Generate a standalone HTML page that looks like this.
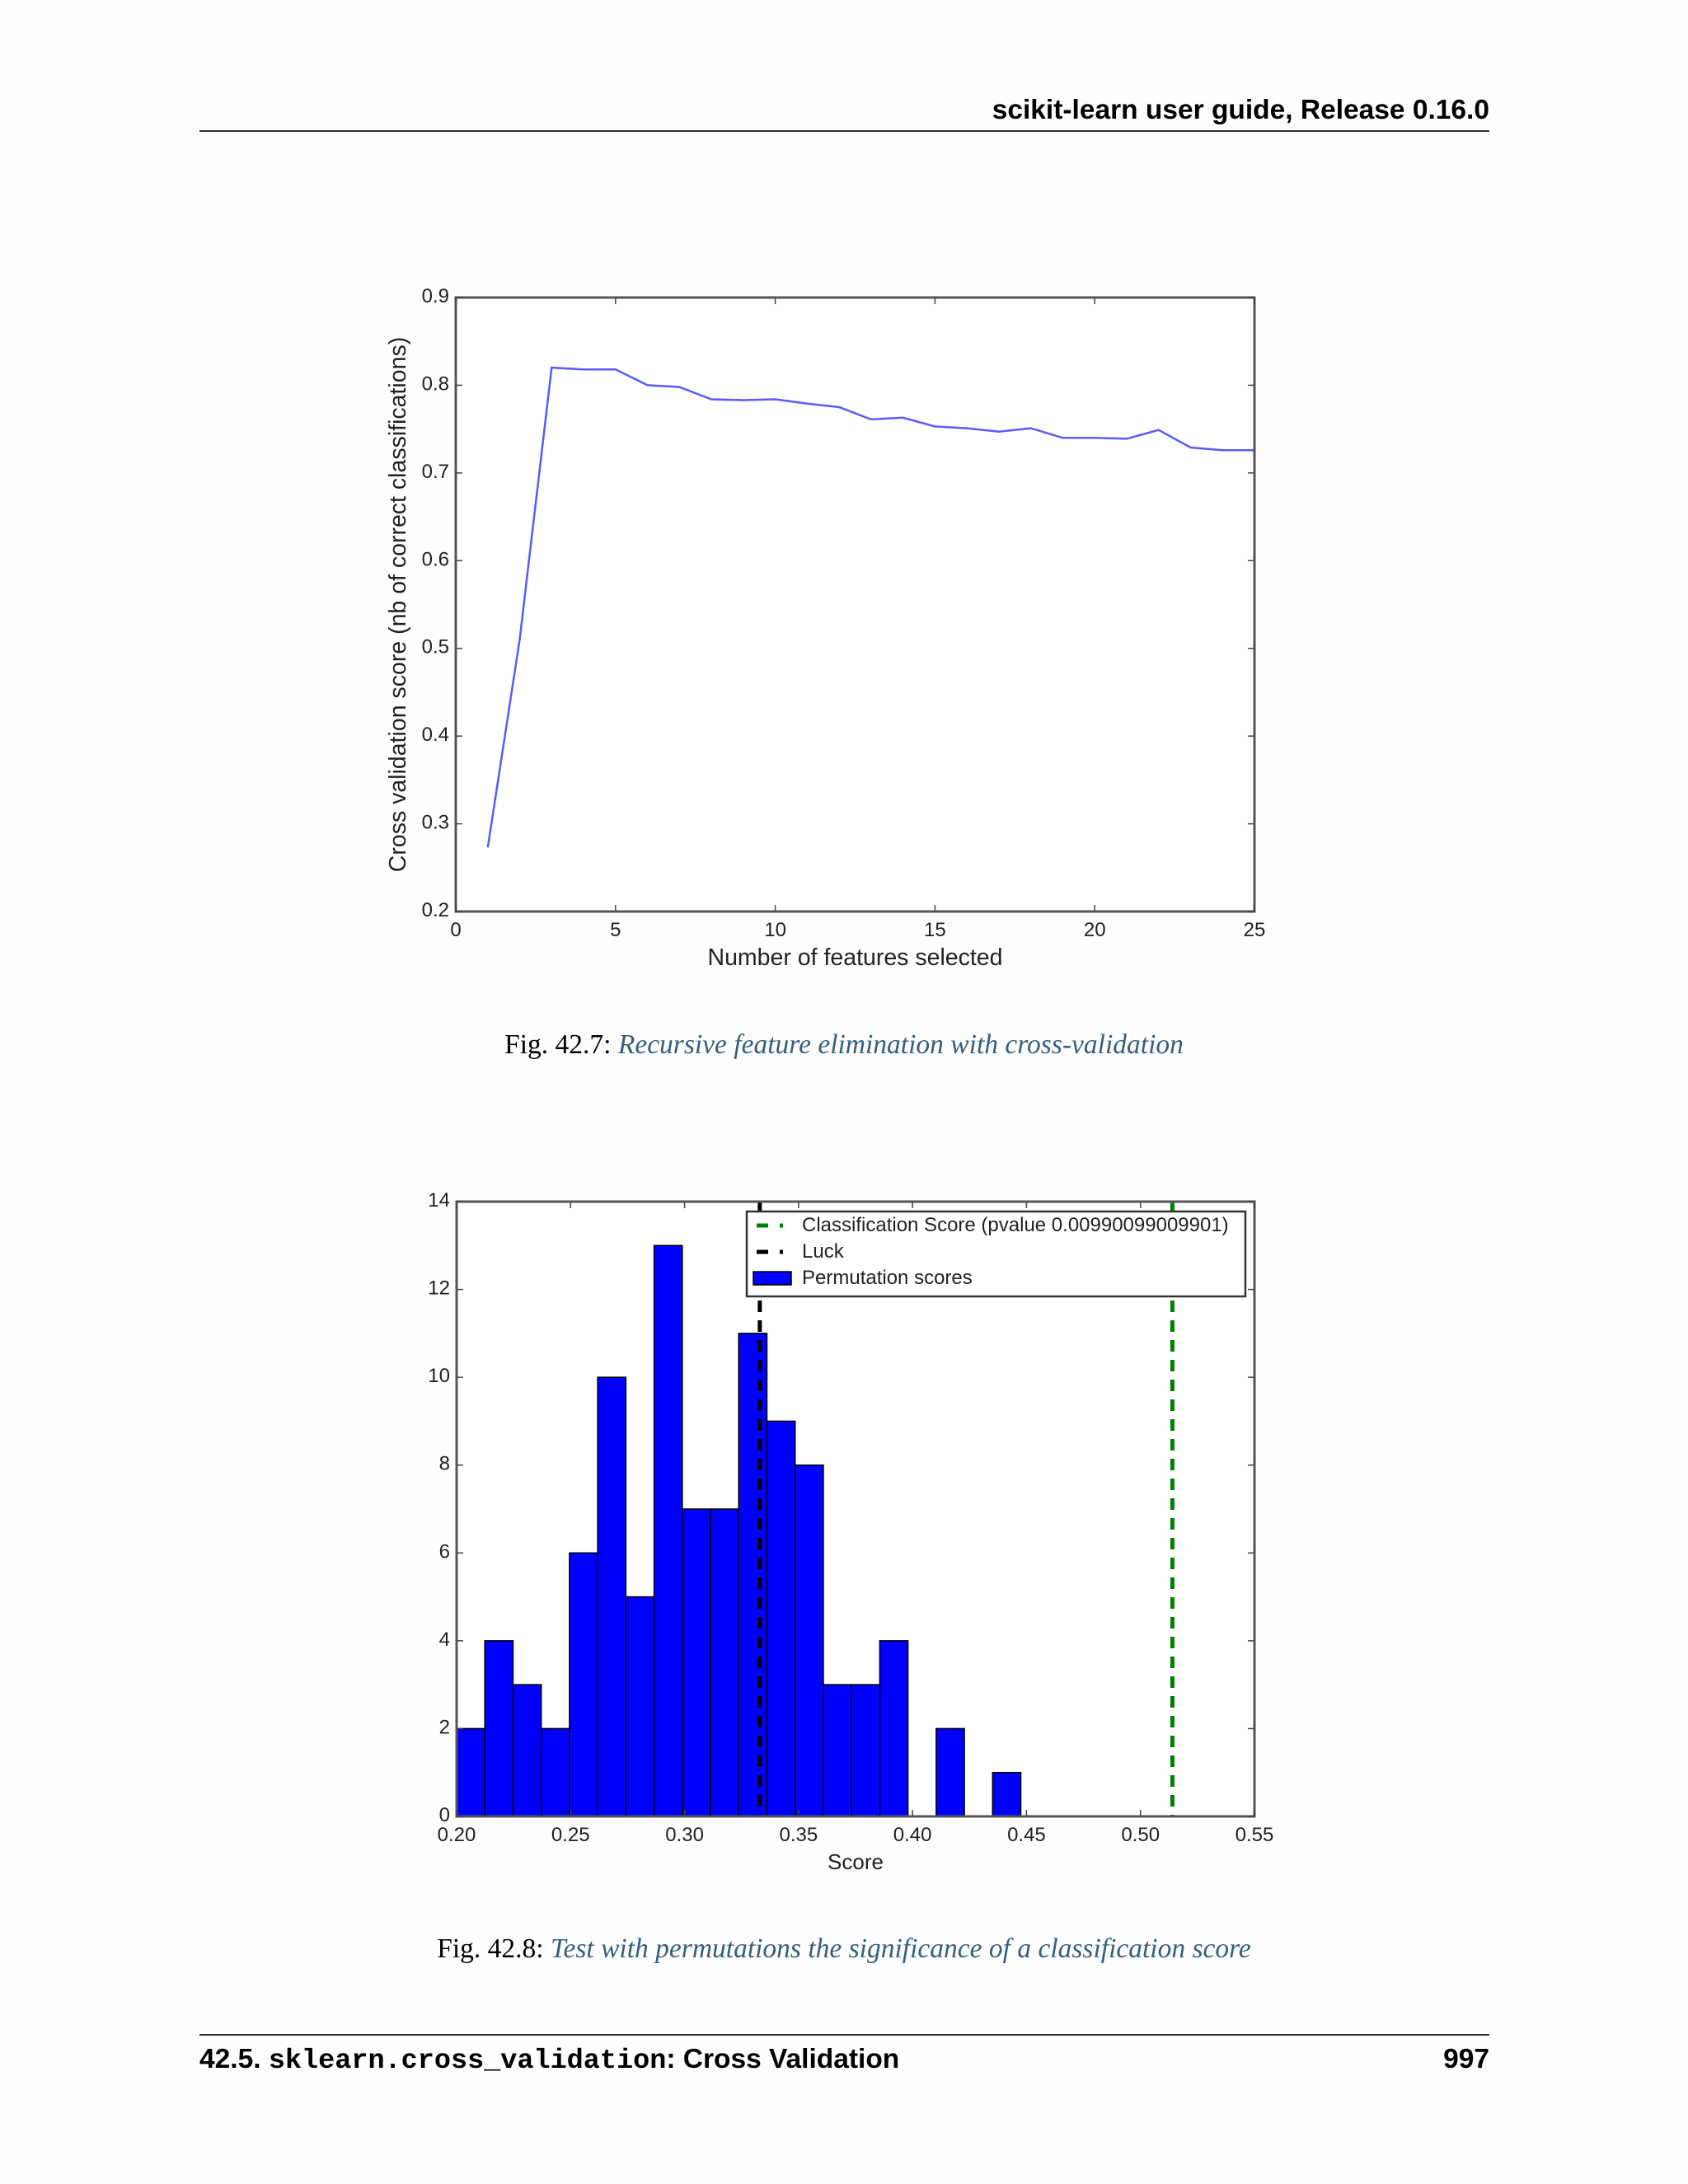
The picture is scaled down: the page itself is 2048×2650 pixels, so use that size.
<!DOCTYPE html>
<html><head><meta charset="utf-8"><style>
html,body{margin:0;padding:0;background:#fff;}
svg{display:block;}
</style></head><body>
<svg id="page" width="2048" height="2650" viewBox="0 0 2048 2650" xmlns="http://www.w3.org/2000/svg">
<rect x="0" y="0" width="2048" height="2650" fill="#fdfdfd"/>
<text x="1807" y="144" text-anchor="end" font-family="Liberation Sans, sans-serif" font-weight="bold" font-size="33.5" fill="#000">scikit-learn user guide, Release 0.16.0</text>
<line x1="242" y1="159" x2="1807" y2="159" stroke="#333" stroke-width="2"/>
<g id="c1"></g>
<text x="1024" y="1278" text-anchor="middle" font-family="Liberation Serif, serif" font-size="33.5"><tspan fill="#000">Fig.  42.7: </tspan><tspan fill="#355f7c" font-style="italic">Recursive feature elimination with cross-validation</tspan></text>
<g id="c2"></g>
<text x="1024" y="2375" text-anchor="middle" font-family="Liberation Serif, serif" font-size="33.5"><tspan fill="#000">Fig.  42.8: </tspan><tspan fill="#355f7c" font-style="italic">Test with permutations the significance of a classification score</tspan></text>
<line x1="242" y1="2469" x2="1807" y2="2469" stroke="#333" stroke-width="2"/>
<text x="242" y="2509" font-family="Liberation Sans, sans-serif" font-weight="bold" font-size="33.5">42.5. <tspan font-family="Liberation Mono, monospace">sklearn.cross_validation</tspan>: Cross Validation</text>
<text x="1807" y="2509" text-anchor="end" font-family="Liberation Sans, sans-serif" font-weight="bold" font-size="33.5">997</text>
</svg>
<script>
const NS='http://www.w3.org/2000/svg';
const rfeX=[1,2,3,4,5,6,7,8,9,10,11,12,13,14,15,16,17,18,19,20,21,22,23,24,25];
const rfeY=[0.273,0.51,0.82,0.818,0.818,0.80,0.798,0.784,0.783,0.784,0.779,0.775,0.761,0.763,0.753,0.751,0.747,0.751,0.740,0.740,0.739,0.749,0.729,0.726,0.726];
const rfeXTicks=[0,5,10,15,20,25];
const rfeYTicks=[0.2,0.3,0.4,0.5,0.6,0.7,0.8,0.9];
const histStart=0.2;
const histBinWidth=0.012375;
const histCounts=[2,4,3,2,6,10,5,13,7,7,11,9,8,3,3,4,0,2,0,1];
const luckScore=0.333;
const classScore=0.514;
const histXTicks=['0.20','0.25','0.30','0.35','0.40','0.45','0.50','0.55'];
const histYTicks=[0,2,4,6,8,10,12,14];

function el(parent,tag,attrs,txt){const e=document.createElementNS(NS,tag);for(const k in attrs)e.setAttribute(k,attrs[k]);if(txt!==undefined)e.textContent=txt;parent.appendChild(e);return e;}
const F='Liberation Sans, DejaVu Sans, sans-serif';

function axesFrame(g,L,T,R,B,xt,yt,sx,sy,xfmt,yfmt){
  xt.forEach(v=>{const x=sx(v);
    const t1=el(g,'line',{x1:x,y1:B,x2:x,y2:B-8,stroke:'#444','stroke-width':1.5});
    
    const t2=el(g,'line',{x1:x,y1:T,x2:x,y2:T+8,stroke:'#444','stroke-width':1.5});
    
    const lb=el(g,'text',{x:x,y:B+30,'text-anchor':'middle','font-family':F,'font-size':24,fill:'#222'},xfmt(v));
    
  });
  yt.forEach(v=>{const y=sy(v);
    const t1=el(g,'line',{x1:L,y1:y,x2:L+8,y2:y,stroke:'#444','stroke-width':1.5});
    
    const t2=el(g,'line',{x1:R,y1:y,x2:R-8,y2:y,stroke:'#444','stroke-width':1.5});
    
    const lb=el(g,'text',{x:L-8,y:y+6,'text-anchor':'end','font-family':F,'font-size':24,fill:'#222'},yfmt(v));
    
  });
}

// Chart 1
(function(){
  const g=document.getElementById('c1');
  const L=553,R=1522,T=361,B=1106;
  const sx=v=>L+(v-0)/25*(R-L), sy=v=>B-(v-0.2)/0.7*(B-T);
  const bg=el(g,'rect',{x:L,y:T,width:R-L,height:B-T,fill:'#fff'});
  
  const pts=rfeX.map((x,i)=>sx(x).toFixed(1)+','+sy(rfeY[i]).toFixed(1)).join(' ');
  const pl=el(g,'polyline',{points:pts,fill:'none',stroke:'#5a5aff','stroke-width':2.5});
  
  const fr=el(g,'rect',{x:L,y:T,width:R-L,height:B-T,fill:'none',stroke:'#555','stroke-width':3});
  
  axesFrame(g,L,T,R,B,rfeXTicks,rfeYTicks,sx,sy,v=>String(v),v=>v.toFixed(1));
  const xl=el(g,'text',{x:(L+R)/2,y:1171,'text-anchor':'middle','font-family':F,'font-size':28.5,fill:'#222'},'Number of features selected');
  
  const yl=el(g,'text',{x:0,y:0,'text-anchor':'middle','font-family':F,'font-size':28.5,fill:'#222',transform:'translate(492,'+((T+B)/2)+') rotate(-90)'},'Cross validation score (nb of correct classifications)');
  
})();

// Chart 2
(function(){
  const g=document.getElementById('c2');
  const L=554,R=1522,T=1458,B=2204;
  const sx=v=>L+(v-0.2)/0.35*(R-L), sy=v=>B-v/14*(B-T);
  const bg=el(g,'rect',{x:L,y:T,width:R-L,height:B-T,fill:'#fff'});
  
  histCounts.forEach((c,i)=>{
    const x0=sx(histStart+i*histBinWidth), x1=sx(histStart+(i+1)*histBinWidth);
    const b=el(g,'rect',{x:x0,y:sy(c),width:x1-x0,height:sy(0)-sy(c),fill:'#0000ff',stroke:'#000','stroke-width':1.5});
    
  });
  const lk=el(g,'line',{x1:sx(luckScore),y1:T,x2:sx(luckScore),y2:B,stroke:'#000','stroke-width':5,'stroke-dasharray':'14,10'});
  
  const cs=el(g,'line',{x1:sx(classScore),y1:T,x2:sx(classScore),y2:B,stroke:'#008000','stroke-width':5,'stroke-dasharray':'14,10'});
  
  const fr=el(g,'rect',{x:L,y:T,width:R-L,height:B-T,fill:'none',stroke:'#555','stroke-width':3});
  
  axesFrame(g,L,T,R,B,histXTicks.map(Number),histYTicks,sx,sy,v=>v.toFixed(2),v=>String(v));
  const xl=el(g,'text',{x:(L+R)/2,y:2268,'text-anchor':'middle','font-family':F,'font-size':26,fill:'#222'},'Score');
  
  const lg=el(g,'g',{});
  
  const lb=el(lg,'rect',{x:906,y:1470,width:605,height:103,fill:'#fff',stroke:'#333','stroke-width':2.5});
  
  const e1=el(lg,'line',{x1:918,y1:1487,x2:956,y2:1487,stroke:'#008000','stroke-width':5,'stroke-dasharray':'14,14,4,10'});
  
  const t1=el(lg,'text',{x:973,y:1494,'font-family':F,'font-size':24,fill:'#222'},'Classification Score (pvalue 0.00990099009901)');
  
  const e2=el(lg,'line',{x1:918,y1:1519,x2:956,y2:1519,stroke:'#000','stroke-width':5,'stroke-dasharray':'14,14,4,10'});
  
  const t2=el(lg,'text',{x:973,y:1526,'font-family':F,'font-size':24,fill:'#222'},'Luck');
  
  const e3=el(lg,'rect',{x:914,y:1543,width:46,height:16,fill:'#0000ff',stroke:'#000','stroke-width':1.5});
  
  const t3=el(lg,'text',{x:973,y:1558,'font-family':F,'font-size':24,fill:'#222'},'Permutation scores');
  
})();
</script>
</body></html>
